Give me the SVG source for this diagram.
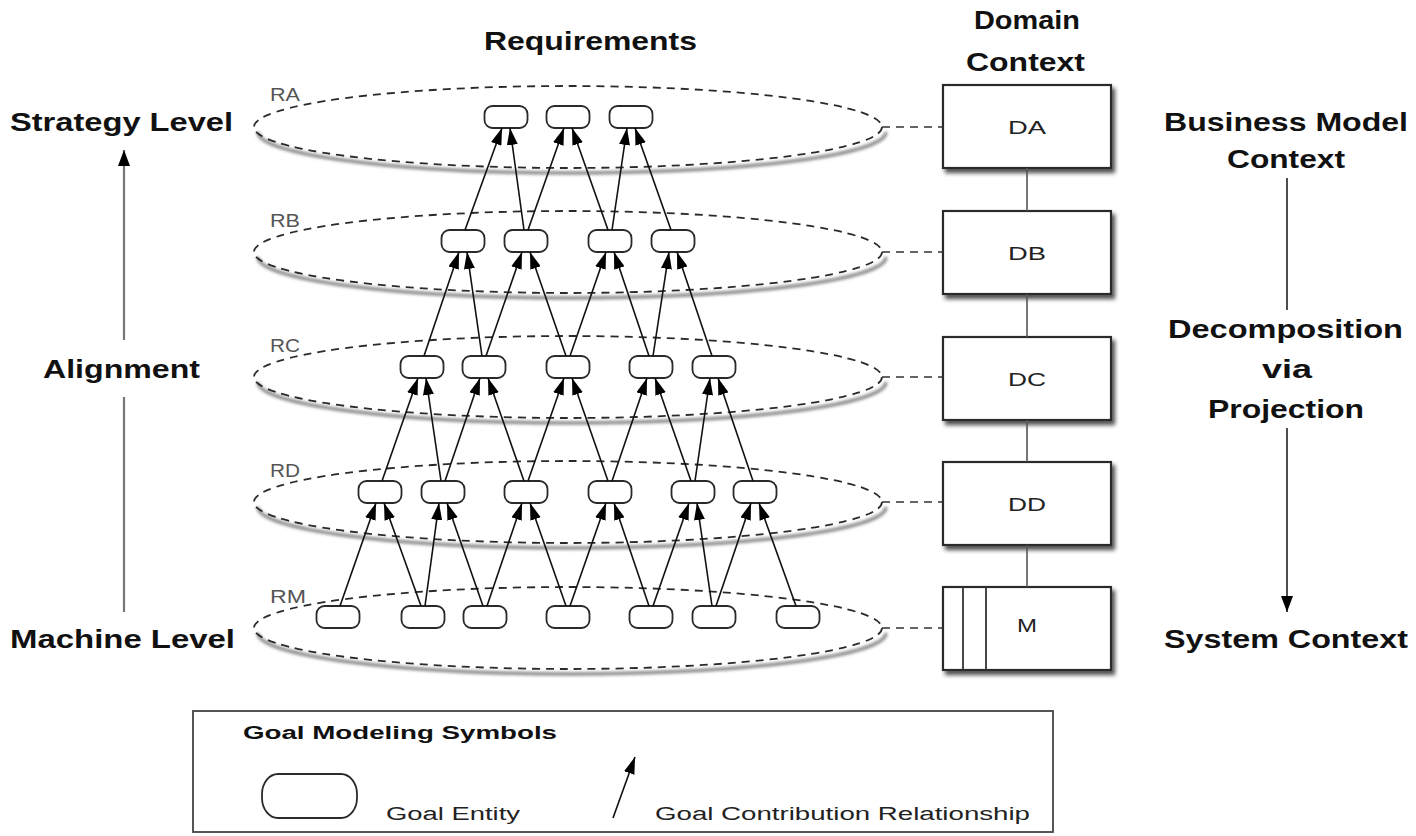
<svg xmlns="http://www.w3.org/2000/svg" width="1416" height="836" viewBox="0 0 1416 836">
<style>
  text { font-family: "Liberation Sans", Arial, sans-serif; fill: #111; }
  .hd { font-size: 25px; font-weight: bold; }
  .lvl { font-size: 18px; fill: #555; }
  .bx { font-size: 19px; fill: #222; }
  .lg { font-size: 18px; fill: #222; }
  .lgt { font-size: 18px; font-weight: bold; }
  .ell { fill: none; stroke: #2a2a2a; stroke-width: 1.8; stroke-dasharray: 8 6; }
  .esh { fill: none; stroke: #8a8a8a; stroke-width: 3.5; filter: url(#blur); }
  .goal { fill: #fff; stroke: #2a2a2a; stroke-width: 1.8; }
  .dom { fill: #fff; stroke: #2a2a2a; stroke-width: 2.2; }
  .arr { stroke: #111; stroke-width: 1.6; fill: none; marker-end: url(#ah); }
  .dash { stroke: #333; stroke-width: 1.6; stroke-dasharray: 8 6; fill: none; }
  .link { stroke: #555; stroke-width: 1.6; fill: none; }
</style>
<defs>
  <marker id="ah" viewBox="0 0 17 11" refX="17" refY="5.5" markerWidth="17" markerHeight="11" markerUnits="userSpaceOnUse" orient="auto">
    <path d="M0,0 L17,5.5 L0,11 z" fill="#000"/>
  </marker>
  <marker id="ah2" viewBox="0 0 16 12" refX="16" refY="6" markerWidth="16" markerHeight="12" markerUnits="userSpaceOnUse" orient="auto">
    <path d="M0,0 L16,6 L0,12 z" fill="#000"/>
  </marker>
  <filter id="sh" x="-10%" y="-20%" width="125%" height="150%">
    <feGaussianBlur in="SourceAlpha" stdDeviation="2"/>
    <feOffset dx="3" dy="4" result="o"/>
    <feComponentTransfer><feFuncA type="linear" slope="0.7"/></feComponentTransfer>
    <feMerge><feMergeNode/><feMergeNode in="SourceGraphic"/></feMerge>
  </filter>
  <filter id="blur" x="-5%" y="-30%" width="110%" height="160%">
    <feGaussianBlur stdDeviation="1.8"/>
  </filter>
</defs>
<rect width="1416" height="836" fill="#fff"/>

<!-- headings -->
<text class="hd" x="484" y="50" textLength="213" lengthAdjust="spacingAndGlyphs">Requirements</text>
<text class="hd" x="974" y="29" textLength="106" lengthAdjust="spacingAndGlyphs">Domain</text>
<text class="hd" x="966" y="71" textLength="119" lengthAdjust="spacingAndGlyphs">Context</text>

<g id="left-axis">
  <text class="hd" x="10" y="131" textLength="223" lengthAdjust="spacingAndGlyphs">Strategy Level</text>
  <text class="hd" x="43" y="378" textLength="157" lengthAdjust="spacingAndGlyphs">Alignment</text>
  <text class="hd" x="10" y="648" textLength="225" lengthAdjust="spacingAndGlyphs">Machine Level</text>
  <line x1="124" y1="612" x2="124" y2="397" stroke="#777" stroke-width="2.2"/>
  <line x1="124" y1="340" x2="124" y2="150" stroke="#777" stroke-width="2.2" marker-end="url(#ah2)"/>
</g>

<g id="right-axis">
  <text class="hd" x="1164" y="131" textLength="244" lengthAdjust="spacingAndGlyphs">Business Model</text>
  <text class="hd" x="1227" y="168" textLength="118" lengthAdjust="spacingAndGlyphs">Context</text>
  <text class="hd" x="1168" y="338" textLength="235" lengthAdjust="spacingAndGlyphs">Decomposition</text>
  <text class="hd" x="1262" y="378" textLength="50" lengthAdjust="spacingAndGlyphs">via</text>
  <text class="hd" x="1208" y="418" textLength="156" lengthAdjust="spacingAndGlyphs">Projection</text>
  <text class="hd" x="1164" y="648" textLength="244" lengthAdjust="spacingAndGlyphs">System Context</text>
  <line x1="1287" y1="178" x2="1287" y2="310" stroke="#222" stroke-width="1.6"/>
  <line x1="1287" y1="428" x2="1287" y2="612" stroke="#222" stroke-width="1.6" marker-end="url(#ah2)"/>
</g>

<!-- requirement level ellipses -->
<g id="RA"><path class="esh" d="M258,132 A314 41 0 0 0 886,132"/><ellipse class="ell" cx="568" cy="127" rx="314" ry="41"/><text class="lvl" x="270" y="101" textLength="30" lengthAdjust="spacingAndGlyphs">RA</text></g>
<g id="RB"><path class="esh" d="M258,257 A314 41 0 0 0 886,257"/><ellipse class="ell" cx="568" cy="252" rx="314" ry="41"/><text class="lvl" x="270" y="227" textLength="30" lengthAdjust="spacingAndGlyphs">RB</text></g>
<g id="RC"><path class="esh" d="M258,382 A314 41 0 0 0 886,382"/><ellipse class="ell" cx="568" cy="377" rx="314" ry="41"/><text class="lvl" x="270" y="352" textLength="30" lengthAdjust="spacingAndGlyphs">RC</text></g>
<g id="RD"><path class="esh" d="M258,507 A314 41 0 0 0 886,507"/><ellipse class="ell" cx="568" cy="502" rx="314" ry="41"/><text class="lvl" x="270" y="477" textLength="30" lengthAdjust="spacingAndGlyphs">RD</text></g>
<g id="RM"><path class="esh" d="M258,633 A314 41 0 0 0 886,633"/><ellipse class="ell" cx="568" cy="628" rx="314" ry="41"/><text class="lvl" x="270" y="603" textLength="36" lengthAdjust="spacingAndGlyphs">RM</text></g>

<!-- domain boxes -->
<g id="DA"><rect class="dom" x="943" y="85" width="168" height="83" filter="url(#sh)"/><text class="bx" x="1027" y="134" text-anchor="middle" textLength="38" lengthAdjust="spacingAndGlyphs">DA</text></g>
<g id="DB"><rect class="dom" x="943" y="211" width="168" height="83" filter="url(#sh)"/><text class="bx" x="1027" y="260" text-anchor="middle" textLength="38" lengthAdjust="spacingAndGlyphs">DB</text></g>
<g id="DC"><rect class="dom" x="943" y="337" width="168" height="83" filter="url(#sh)"/><text class="bx" x="1027" y="386" text-anchor="middle" textLength="38" lengthAdjust="spacingAndGlyphs">DC</text></g>
<g id="DD"><rect class="dom" x="943" y="462" width="168" height="83" filter="url(#sh)"/><text class="bx" x="1027" y="511" text-anchor="middle" textLength="38" lengthAdjust="spacingAndGlyphs">DD</text></g>
<g id="M"><rect class="dom" x="943" y="587" width="168" height="83" filter="url(#sh)"/><line x1="963" y1="587" x2="963" y2="670" stroke="#333" stroke-width="1.8"/><line x1="986" y1="587" x2="986" y2="670" stroke="#333" stroke-width="1.8"/><text class="bx" x="1027" y="632" text-anchor="middle" textLength="20" lengthAdjust="spacingAndGlyphs">M</text></g>

<!-- goal entities -->
<g id="goals">
  <g id="RA-goals">
    <rect class="goal" x="484.5" y="106" width="43" height="22" rx="8"/>
    <rect class="goal" x="546.5" y="106" width="43" height="22" rx="8"/>
    <rect class="goal" x="609.5" y="106" width="43" height="22" rx="8"/>
  </g>
  <g id="RB-goals">
    <rect class="goal" x="441.5" y="230" width="43" height="22" rx="8"/>
    <rect class="goal" x="504.5" y="230" width="43" height="22" rx="8"/>
    <rect class="goal" x="588.5" y="230" width="43" height="22" rx="8"/>
    <rect class="goal" x="651.5" y="230" width="43" height="22" rx="8"/>
  </g>
  <g id="RC-goals">
    <rect class="goal" x="400.5" y="356" width="43" height="22" rx="8"/>
    <rect class="goal" x="462.5" y="356" width="43" height="22" rx="8"/>
    <rect class="goal" x="546.5" y="356" width="43" height="22" rx="8"/>
    <rect class="goal" x="629.5" y="356" width="43" height="22" rx="8"/>
    <rect class="goal" x="692.5" y="356" width="43" height="22" rx="8"/>
  </g>
  <g id="RD-goals">
    <rect class="goal" x="358.5" y="481" width="43" height="22" rx="8"/>
    <rect class="goal" x="421.5" y="481" width="43" height="22" rx="8"/>
    <rect class="goal" x="504.5" y="481" width="43" height="22" rx="8"/>
    <rect class="goal" x="588.5" y="481" width="43" height="22" rx="8"/>
    <rect class="goal" x="671.5" y="481" width="43" height="22" rx="8"/>
    <rect class="goal" x="733.5" y="481" width="43" height="22" rx="8"/>
  </g>
  <g id="RM-goals">
    <rect class="goal" x="316.5" y="606" width="43" height="22" rx="8"/>
    <rect class="goal" x="401.5" y="606" width="43" height="22" rx="8"/>
    <rect class="goal" x="463.5" y="606" width="43" height="22" rx="8"/>
    <rect class="goal" x="546.5" y="606" width="43" height="22" rx="8"/>
    <rect class="goal" x="629.5" y="606" width="43" height="22" rx="8"/>
    <rect class="goal" x="692.5" y="606" width="43" height="22" rx="8"/>
    <rect class="goal" x="776.5" y="606" width="43" height="22" rx="8"/>
  </g>
</g>

<!-- connectors -->
<g id="connectors">
  <line class="dash" x1="882" y1="127" x2="943" y2="127"/>
  <line class="dash" x1="882" y1="252" x2="943" y2="252"/>
  <line class="dash" x1="882" y1="377" x2="943" y2="377"/>
  <line class="dash" x1="882" y1="502" x2="943" y2="502"/>
  <line class="dash" x1="882" y1="628" x2="943" y2="628"/>
  <line class="link" x1="1027" y1="168" x2="1027" y2="211"/>
  <line class="link" x1="1027" y1="294" x2="1027" y2="337"/>
  <line class="link" x1="1027" y1="420" x2="1027" y2="462"/>
  <line class="link" x1="1027" y1="545" x2="1027" y2="587"/>

  <line class="arr" x1="465" y1="230" x2="502" y2="128"/>
  <line class="arr" x1="524" y1="230" x2="510" y2="128"/>
  <line class="arr" x1="528" y1="230" x2="564" y2="128"/>
  <line class="arr" x1="608" y1="230" x2="572" y2="128"/>
  <line class="arr" x1="612" y1="230" x2="627" y2="128"/>
  <line class="arr" x1="671" y1="230" x2="635" y2="128"/>

  <line class="arr" x1="424" y1="356" x2="459" y2="252"/>
  <line class="arr" x1="482" y1="356" x2="467" y2="252"/>
  <line class="arr" x1="486" y1="356" x2="522" y2="252"/>
  <line class="arr" x1="566" y1="356" x2="530" y2="252"/>
  <line class="arr" x1="570" y1="356" x2="606" y2="252"/>
  <line class="arr" x1="649" y1="356" x2="614" y2="252"/>
  <line class="arr" x1="653" y1="356" x2="669" y2="252"/>
  <line class="arr" x1="712" y1="356" x2="677" y2="252"/>

  <line class="arr" x1="382" y1="481" x2="418" y2="378"/>
  <line class="arr" x1="441" y1="481" x2="426" y2="378"/>
  <line class="arr" x1="445" y1="481" x2="480" y2="378"/>
  <line class="arr" x1="524" y1="481" x2="488" y2="378"/>
  <line class="arr" x1="528" y1="481" x2="564" y2="378"/>
  <line class="arr" x1="608" y1="481" x2="572" y2="378"/>
  <line class="arr" x1="612" y1="481" x2="647" y2="378"/>
  <line class="arr" x1="691" y1="481" x2="655" y2="378"/>
  <line class="arr" x1="695" y1="481" x2="710" y2="378"/>
  <line class="arr" x1="753" y1="481" x2="718" y2="378"/>

  <line class="arr" x1="340" y1="606" x2="376" y2="503"/>
  <line class="arr" x1="421" y1="606" x2="384" y2="503"/>
  <line class="arr" x1="425" y1="606" x2="439" y2="503"/>
  <line class="arr" x1="483" y1="606" x2="447" y2="503"/>
  <line class="arr" x1="487" y1="606" x2="522" y2="503"/>
  <line class="arr" x1="566" y1="606" x2="530" y2="503"/>
  <line class="arr" x1="570" y1="606" x2="606" y2="503"/>
  <line class="arr" x1="649" y1="606" x2="614" y2="503"/>
  <line class="arr" x1="653" y1="606" x2="689" y2="503"/>
  <line class="arr" x1="712" y1="606" x2="697" y2="503"/>
  <line class="arr" x1="716" y1="606" x2="751" y2="503"/>
  <line class="arr" x1="796" y1="606" x2="759" y2="503"/>
</g>

<!-- legend -->
<g id="legend">
  <rect x="193" y="711" width="860" height="121" fill="#fff" stroke="#444" stroke-width="1.8"/>
  <text class="lgt" x="243" y="739" textLength="314" lengthAdjust="spacingAndGlyphs">Goal Modeling Symbols</text>
  <rect class="goal" x="262" y="774" width="95" height="44" rx="16" ry="20"/>
  <text class="lg" x="386" y="820" textLength="134" lengthAdjust="spacingAndGlyphs">Goal Entity</text>
  <line class="arr" x1="613" y1="818" x2="635" y2="757"/>
  <text class="lg" x="655" y="820" textLength="375" lengthAdjust="spacingAndGlyphs">Goal Contribution Relationship</text>
</g>
</svg>
